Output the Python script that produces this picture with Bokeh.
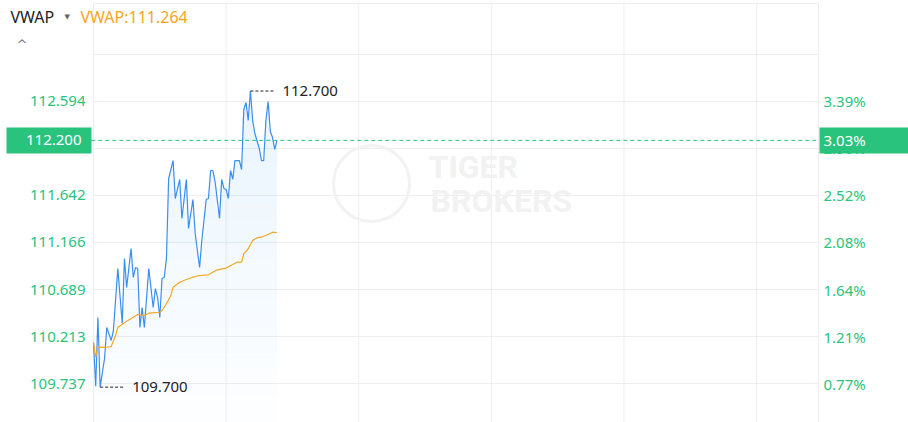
import numpy as np
from bokeh.plotting import figure
from bokeh.models import Range1d
from bokeh.core.properties import value
from bokeh.embed import file_html
from bokeh.resources import INLINE

# ---------------- data ----------------
prev_close = 108.9

price_minutes = [0, 1, 2, 3, 5, 6, 8, 9, 11, 13, 14, 15, 17, 18, 19, 20, 21, 22, 23, 25,
                 27, 28, 29, 30, 31, 32, 33, 34, 36, 37, 39, 40, 42, 43, 45, 46, 48, 49,
                 51, 52, 53, 54, 55, 57, 58, 59, 60, 61, 62, 63, 64, 66, 67, 68, 69, 70,
                 71, 72, 73, 75, 76, 77, 78, 79, 80, 81, 82, 83]
price = [110.152, 109.710, 110.406, 109.700, 109.990, 110.304, 110.173, 110.274, 110.902, 110.345,
         111.003, 110.709, 111.105, 110.811, 110.912, 110.902, 110.304, 110.507, 110.304, 110.902,
         110.507, 110.699, 110.608, 110.406, 110.801, 110.811, 111.003, 111.814, 111.996, 111.611,
         111.804, 111.409, 111.804, 111.307, 111.601, 111.257, 110.912, 111.186, 111.601, 111.611,
         111.895, 111.895, 111.783, 111.409, 111.804, 111.713, 111.703, 111.611, 111.895, 111.804,
         111.996, 111.996, 111.905, 112.513, 112.584, 112.401, 112.700, 112.401, 112.270, 112.118,
         111.996, 111.996, 112.401, 112.594, 112.290, 112.229, 112.108, 112.200]

vwap_minutes = [0, 1, 2, 5, 8, 10, 11, 13, 15, 18, 20, 23, 25, 30, 31, 33, 35, 36, 39, 42,
                45, 48, 52, 54, 56, 60, 62, 65, 67, 68, 70, 72, 74, 76, 79, 81, 83]
vwap = [110.152, 110.003, 110.105, 110.102, 110.112, 110.223, 110.304, 110.338, 110.368, 110.409,
        110.436, 110.426, 110.449, 110.459, 110.476, 110.547, 110.628, 110.713, 110.763, 110.791,
        110.814, 110.831, 110.838, 110.865, 110.889, 110.905, 110.932, 110.966, 110.966, 111.051,
        111.102, 111.186, 111.213, 111.219, 111.246, 111.270, 111.264]

y_ticks = [109.737, 110.213, 110.689, 111.166, 111.642, 112.118, 112.594]
grid_y = y_ticks + [113.070]
left_tick_labels = ["109.737", "110.213", "110.689", "111.166", "111.642", "112.118", "112.594"]
right_tick_labels = ["0.77%", "1.21%", "1.64%", "2.08%", "2.52%", "2.96%", "3.39%"]
x_grid_ticks = [0, 60, 120, 180, 240, 300, 328]
session_minutes = 328

# ---------------- layout / styles ----------------
W, H = 908, 422
CL, CR, CT = 93, 818, 3          # chart area edges in px
PX_PER_UNIT = 98.705             # vertical px per price unit
ppm = (CR - CL) / session_minutes
x_lo = -CL / ppm
x_hi = session_minutes + (W - CR) / ppm
y_hi = y_ticks[-1] + 101 / PX_PER_UNIT
y_lo = y_ticks[0] - (H - 383) / PX_PER_UNIT
chart_top = y_hi - CT / PX_PER_UNIT

GREEN = "#2ac37d"
BLUE = "#3a8ef0"
ORANGE = "#f5a623"
GRID = "#eeeeee"
FONT = value("Noto Sans")

p = figure(width=W, height=H, output_backend="svg", toolbar_location=None, tools="",
           x_range=Range1d(x_lo, x_hi), y_range=Range1d(y_lo, y_hi),
           x_axis_location=None, y_axis_location=None,
           min_border=0, min_border_left=0, min_border_right=0,
           min_border_top=0, min_border_bottom=0)
p.outline_line_color = None
p.xgrid.visible = False
p.ygrid.visible = False

# grid
p.segment(x0=0, x1=session_minutes, y0=grid_y + [chart_top], y1=grid_y + [chart_top],
          line_color=GRID, line_width=1)
p.segment(x0=x_grid_ticks, x1=x_grid_ticks, y0=y_lo, y1=chart_top,
          line_color=GRID, line_width=1)

# watermark
p.scatter(x=[125.8], y=[111.763], marker="circle", size=76, fill_color=None,
          line_color="#f2f2f2", line_width=3)
p.text(x=[151.6, 152.5], y=[111.935, 111.581], text=["TIGER", "BROKERS"],
       text_font=value("Roboto"), text_font_style="bold", text_font_size="32px",
       text_color="#f2f2f2", text_baseline="middle")

# gradient fill under price line
pr = np.array(price)
levels = np.linspace(y_lo, 112.8, 26)
for lo, hi in zip(levels[:-1], levels[1:]):
    upper = np.clip(pr, lo, hi)
    a = 0.005 + 0.10 * ((lo + hi) / 2 - y_lo) / (112.8 - y_lo)
    p.varea(x=price_minutes, y1=lo, y2=upper, fill_color="#2196f3", fill_alpha=a)

p.line(price_minutes, price, line_color=BLUE, line_width=1.2)
p.line(vwap_minutes, vwap, line_color=ORANGE, line_width=1.2)

# last price line
last = price[-1]
p.segment(x0=[-1], x1=[session_minutes], y0=[last], y1=[last], line_color=GREEN,
          line_dash="4 3", line_width=1)

# high / low markers
i_hi = int(np.argmax(pr)); i_lo = int(np.argmin(pr))
mx = [price_minutes[i_hi], price_minutes[i_lo]]
my = [price[i_hi], price[i_lo]]
ex = [m + 25 / ppm for m in mx]
p.segment(x0=mx, y0=my, x1=ex, y1=my, line_color="#222222", line_dash="3 2", line_width=1)
p.text(x=ex, y=my, text=[f"{v:.3f}" for v in my], x_offset=7, text_baseline="middle",
       text_font=FONT, text_font_size="15px", text_color="#222222")

# axis tick labels (left: price, right: change vs previous close)
p.text(x=0, y=y_ticks, text=left_tick_labels, x_offset=-8, text_align="right",
       text_baseline="middle", text_font=FONT, text_font_size="15px", text_color=GREEN)
p.text(x=session_minutes, y=y_ticks, text=right_tick_labels, x_offset=5, text_align="left",
       text_baseline="middle", text_font=FONT, text_font_size="15px", text_color=GREEN)

# price badges
pct = (last / prev_close - 1) * 100
p.rect(x=[-(CL - 48.5) / ppm, session_minutes + (863.5 - CR) / ppm], y=[last, last],
       width=[85, 89], height=26, width_units="screen", height_units="screen",
       fill_color=GREEN, line_color=None)
p.text(x=[0], y=[last], text=[f"{last:.3f}"], x_offset=-12, text_align="right",
       text_baseline="middle", text_font=FONT, text_font_size="15px", text_color="white")
p.text(x=[session_minutes], y=[last], text=[f"{pct:.2f}%"], x_offset=5, text_align="left",
       text_baseline="middle", text_font=FONT, text_font_size="15px", text_color="white")

# legend header
p.text(x=[x_lo, x_lo], y=[y_hi, y_hi], text=["VWAP", f"VWAP:{vwap[-1]:.3f}"],
       x_offset=[10, 80], y_offset=16, text_baseline="middle",
       text_color=["#222222", ORANGE], text_font=FONT, text_font_size="16px")
p.text(x=[x_lo], y=[y_hi], text=["▼"], x_offset=64, y_offset=16, text_baseline="middle",
       text_color="#666666", text_font=value("DejaVu Sans"), text_font_size="7px")
p.text(x=[x_lo], y=[y_hi], text=["^"], x_offset=16, y_offset=44, text_baseline="middle",
       text_color="#777777", text_font=value("DejaVu Sans"), text_font_size="13px")

open("out.html", "w").write(file_html(p, INLINE))
